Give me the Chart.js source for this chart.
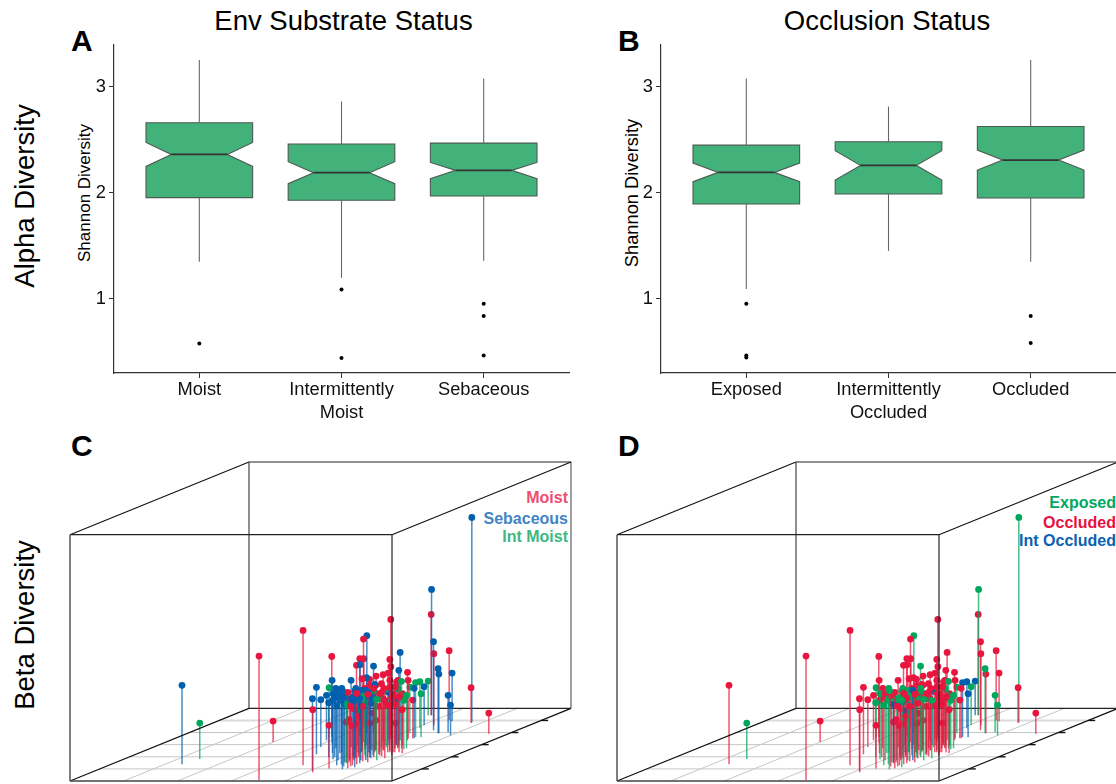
<!DOCTYPE html>
<html>
<head>
<meta charset="utf-8">
<title>Alpha and beta diversity</title>
<script src="https://cdn.jsdelivr.net/npm/chart.js@4"></script>
<style>
  html, body { margin: 0; padding: 0; width: 1116px; height: 784px; overflow: hidden; background: #fff; }
  body { position: relative; font-family: "Liberation Sans", Arial, sans-serif; color: #000; }
  canvas { position: absolute; }
  .txt { position: absolute; white-space: nowrap; line-height: 1; }
  .center { transform: translate(-50%, -50%); }
  .turn { transform: translate(-50%, -50%) rotate(-90deg); }
  .letter { font-weight: bold; font-size: 30px; }
  .key { font-weight: bold; font-size: 16px; transform: translate(-100%, -50%); }
</style>
</head>
<body>
<div class="txt center" style="left:343.5px; top:21px; font-size:27.5px">Env Substrate Status</div>
<div class="txt center" style="left:887px; top:21px; font-size:27.5px">Occlusion Status</div>
<div class="txt turn" style="left:25px; top:196px; font-size:27.5px">Alpha Diversity</div>
<div class="txt turn" style="left:25px; top:625px; font-size:27.5px">Beta Diversity</div>
<div class="txt turn" style="left:84px; top:192.5px; font-size:17px">Shannon Diversity</div>
<div class="txt turn" style="left:632px; top:192.5px; font-size:18.3px">Shannon Diversity</div>
<div class="txt letter" style="left:71px; top:26px">A</div>
<div class="txt letter" style="left:618px; top:26px">B</div>
<div class="txt letter" style="left:71px; top:431px">C</div>
<div class="txt letter" style="left:618px; top:431px">D</div>
<div class="txt key" style="left:568px; top:498px; color:#ee4d71">Moist</div>
<div class="txt key" style="left:568px; top:518.5px; color:#3f85c5">Sebaceous</div>
<div class="txt key" style="left:568px; top:537px; color:#3db880">Int Moist</div>
<div class="txt key" style="left:1116px; top:502.5px; color:#00a860">Exposed</div>
<div class="txt key" style="left:1116px; top:522.5px; color:#e8103f">Occluded</div>
<div class="txt key" style="left:1116px; top:540.5px; color:#0a62b0">Int Occluded</div>

<canvas id="panelA" width="510" height="405" style="left:70px; top:31px"></canvas>
<canvas id="panelB" width="510" height="405" style="left:617px; top:31px"></canvas>
<canvas id="panelC" width="509" height="327" style="left:66px; top:458px"></canvas>
<canvas id="panelD" width="509" height="327" style="left:613px; top:458px"></canvas>

<script>
// Box plot values (Shannon diversity)
const substrateLabels = ["Moist", ["Intermittently", "Moist"], "Sebaceous"];
const substrateWhiskerLow = [1.348, 1.197, 1.357];
const substrateQ1 = [1.953, 1.928, 1.969];
const substrateNotchLow = [2.247, 2.085, 2.132];
const substrateMedian = [2.36, 2.188, 2.21];
const substrateNotchHigh = [2.473, 2.292, 2.285];
const substrateQ3 = [2.659, 2.458, 2.467];
const substrateWhiskerHigh = [3.251, 2.859, 3.075];
const substrateOutliers = [[0.578], [1.088, 0.442], [0.953, 0.837, 0.464]];

const occlusionLabels = ["Exposed", ["Intermittently", "Occluded"], "Occluded"];
const occlusionWhiskerLow = [1.091, 1.451, 1.348];
const occlusionQ1 = [1.893, 1.987, 1.95];
const occlusionNotchLow = [2.103, 2.119, 2.213];
const occlusionMedian = [2.191, 2.257, 2.307];
const occlusionNotchHigh = [2.279, 2.395, 2.401];
const occlusionQ3 = [2.448, 2.48, 2.624];
const occlusionWhiskerHigh = [3.075, 2.812, 3.251];
const occlusionOutliers = [[0.953, 0.464, 0.445], [], [0.837, 0.583]];

const diversityTicks = [1, 2, 3];

// Ordination samples, one entry per sample. Same samples in panels C and D.
const pointX = [
  70.9, 75.6, 187.3, 107.1, 194.4, 216.1, 221.3, 180.7, 167.1, 228.5,
  151.5, 169.3, 154.2, 156.3, 200.4, 209.6, 194.3, 217.1, 243.6, 201.6,
  232.9, 230.4, 233, 243.8, 229.9, 232.8, 230.1, 217.4, 198.1, 154.3,
  145.3, 159.1, 180, 198.2, 179.4, 209.1, 208.6, 211.6, 186.1, 218.2,
  212.9, 213, 208.3, 224.5, 215.7, 229.9, 240.9, 237.3, 233, 251,
  199.8, 199.4, 238.7, 226.7, 229.7, 250.7, 251.4, 235.1, 258.2, 268,
  257.3, 258.3, 302.1, 196.4, 220.1, 237.2, 217, 243.5, 239, 222.4,
  237.7, 238.2, 263.9, 233, 230.2, 231.6, 226.2, 239.1, 225.5, 239.8,
  233.5, 234.1, 239.1, 227.2, 239.8, 241.4, 231.5, 220.8, 226.4, 228.8,
  219.8, 200.2, 230.2, 238.6, 244.2, 231, 229.2, 219.3, 245.1, 244.6,
  252.4, 244.3, 246.5, 237.5, 214.3, 230.3, 228.7, 227.2, 258.4, 256, 249.1,
  206.4, 228.1, 237.5, 246.5, 244.5, 251, 245.6, 246.2, 244.2, 244.8,
  251.7, 244.9, 245.4, 255.8, 243, 250.9, 258.9, 247.1, 258.5, 254.1,
  247.3, 255.7, 201.1, 218.4, 185.3, 210.2, 221.1, 228.1, 230.2, 238.2
];
const pointDepth = [
  16.7, 22, 0.7, 39, 15.7, 10.7, 8.7, 26.7, 34, 12.4,
  43.7, 37.7, 43.7, 40.7, 23.7, 21.7, 27.7, 20.7, 11.7, 27.7,
  17.7, 18.7, 18.7, 15.7, 22.7, 20.7, 23.7, 28.7, 33.7, 53.7,
  58.7, 54.7, 44.7, 38.7, 47.7, 33.7, 35.7, 35.7, 47.7, 35.7,
  40.7, 42.7, 45.7, 38.7, 42.7, 40.7, 35.7, 40.7, 42.7, 32.7,
  65.7, 65.7, 50.7, 55.7, 60.7, 47.7, 47.7, 59.7, 48.7, 45.7,
  58.7, 58, 47.4, 65.7, 52.7, 44, 55.7, 43.7, 42.7, 47.7,
  42.7, 35.7, 27.7, 37.7, 30.7, 27.7, 30.7, 23.7, 25.7, 20.7,
  33.7, 28.7, 28.7, 35.7, 25.7, 23.7, 25.7, 28.7, 23.7, 20.7,
  25.7, 35.7, 35.7, 35.7, 30.7, 32.7, 30.7, 32.7, 33.7, 35.7,
  28.7, 32.7, 25.7, 30.7, 32.7, 16.7, 18.7, 22.7, 28.7, 32.7, 28.7,
  23.7, 15.7, 14.7, 12.7, 14.7, 13.7, 16.7, 17.7, 19.7, 20.7,
  18.7, 22.7, 23.7, 20.7, 26.7, 24.7, 22.7, 28.7, 25.7, 28.7,
  32.7, 31.7, 28.7, 23.7, 32.7, 30.7, 28.7, 28.7, 30.7, 30.7
];
const pointZ = [
  79, 36, 124.3, 21, 135, 71.7, 62.7, 67, 47.4, 43.3,
  49.7, 63, 81, 45, 54.7, 65.7, 53, 66.7, 78.7, 53,
  59, 40.3, 42.7, 39.7, 34.7, 51.7, 41, 42, 67, 62,
  63.7, 67.7, 71.7, 103.3, 97.7, 68.7, 67.7, 66, 67.3, 69.3,
  65.7, 65.3, 116, 83, 71.7, 88, 75, 68, 58, 67,
  126, 101, 88.7, 71.7, 69.7, 64.7, 59.3, 48.3, 37, 30.3,
  205, 35.4, 20.6, 34.3, 46.7, 54.4, 38.7, 43.7, 50, 46.3,
  38.3, 45.7, 43.7, 20.3, 30, 30, 37.3, 54.7, 53.3, 55.3,
  44, 60.3, 53.7, 56, 58.3, 58.7, 60, 62, 66.3, 60,
  58.3, 50, 53.3, 63.3, 70, 64.7, 66, 63, 58.7, 51.7,
  58.7, 61.3, 61.7, 51.7, 60, 65.7, 58.7, 56.3, 55.3, 53, 65.3,
  60, 60, 71, 76, 60, 67, 71, 65, 55, 70,
  68, 55, 69, 61, 48, 64, 58, 47, 58, 48,
  68, 49, 64, 60, 60, 62, 55, 60, 65, 62
];
// M moist, S sebaceous, I intermittently moist
const pointSubstrate = [
  "S", "I", "M", "M", "M", "S", "M", "S", "S", "M",
  "I", "S", "M", "S", "S", "S", "S", "S", "S", "S",
  "I", "M", "M", "M", "M", "M", "M", "S", "S", "M",
  "M", "M", "S", "M", "S", "M", "S", "M", "S", "M",
  "M", "M", "M", "M", "M", "S", "S", "M", "M", "I",
  "S", "M", "S", "M", "M", "S", "S", "S", "S", "S",
  "S", "M", "M", "I", "I", "I", "S", "I", "S", "I",
  "M", "S", "M", "M", "M", "M", "M", "I", "I", "S",
  "I", "I", "I", "I", "S", "S", "I", "S", "S", "S",
  "S", "M", "S", "M", "M", "M", "S", "M", "I", "M",
  "M", "M", "M", "M", "M", "S", "S", "S", "M", "I", "M",
  "S", "S", "S", "M", "M", "S", "M", "S", "M", "S",
  "M", "S", "M", "I", "M", "M", "M", "M", "M", "M",
  "M", "I", "S", "S", "S", "S", "I", "S", "M", "M"
];
// E exposed, O occluded, N intermittently occluded
const pointOcclusion = [
  "O", "E", "O", "O", "O", "O", "O", "O", "O", "O",
  "E", "O", "O", "O", "E", "E", "O", "O", "E", "E",
  "N", "O", "O", "O", "O", "O", "O", "N", "O", "O",
  "O", "O", "O", "O", "E", "O", "O", "O", "E", "O",
  "O", "O", "O", "O", "O", "O", "O", "O", "O", "E",
  "E", "O", "O", "O", "O", "E", "O", "O", "E", "E",
  "E", "O", "O", "N", "N", "N", "E", "N", "O", "E",
  "O", "O", "O", "O", "O", "O", "O", "E", "N", "E",
  "E", "E", "E", "N", "O", "E", "E", "E", "E", "E",
  "E", "O", "O", "O", "O", "O", "O", "O", "E", "O",
  "O", "O", "O", "O", "O", "E", "E", "N", "O", "E", "O",
  "O", "E", "O", "O", "O", "E", "O", "O", "O", "N",
  "O", "O", "E", "E", "O", "O", "E", "O", "O", "O",
  "O", "E", "E", "E", "O", "E", "E", "O", "O", "O"
];

// Floor grid of the 3D box
const floorXTicks = [53.7, 107.3, 161, 214.7, 268.3];
const floorDepthTicks = [12.1, 24.2, 36.4, 48.5, 60.6];

const xMax = 322;
const depthMax = 72.7;
const zMax = 246.5;
const depthSlant = 2.462;

const groupColors = {
  M: "232, 22, 63", O: "232, 22, 63",
  S: "0, 96, 174", N: "0, 96, 174",
  I: "0, 166, 92", E: "0, 166, 92"
};

// Notched box as a closed outline, starting in the middle of the bottom edge
function boxOutline(pos, q1, notchLow, median, notchHigh, q3) {
  const half = 0.375;
  const notch = 0.197;
  return [
    { x: pos, y: q1 },
    { x: pos + half, y: q1 },
    { x: pos + half, y: notchLow },
    { x: pos + notch, y: median },
    { x: pos + half, y: notchHigh },
    { x: pos + half, y: q3 },
    { x: pos - half, y: q3 },
    { x: pos - half, y: notchHigh },
    { x: pos - notch, y: median },
    { x: pos - half, y: notchLow },
    { x: pos - half, y: q1 },
    { x: pos, y: q1 }
  ];
}

function segment(data, color, width) {
  return { data: data, showLine: true, borderColor: color, borderWidth: width, pointRadius: 0, fill: false, clip: false };
}

function createBoxChart(canvasId, labels, low, q1, notchLow, median, notchHigh, q3, high, outliers) {
  const datasets = [];
  labels.forEach((label, i) => {
    const pos = i + 1;
    datasets.push(segment([{ x: pos, y: low[i] }, { x: pos, y: q1[i] }], "#666", 1.1));
    datasets.push(segment([{ x: pos, y: q3[i] }, { x: pos, y: high[i] }], "#666", 1.1));
    datasets.push(segment([{ x: pos - 0.197, y: median[i] }, { x: pos + 0.197, y: median[i] }], "#333", 1.8));
    const box = segment(boxOutline(pos, q1[i], notchLow[i], median[i], notchHigh[i], q3[i]), "#4d5a52", 1.1);
    box.fill = "shape";
    box.backgroundColor = "#43b17a";
    box.order = 1;
    datasets.push(box);
    datasets.push({
      data: outliers[i].map((v) => ({ x: pos, y: v })),
      pointRadius: 2,
      pointBackgroundColor: "#000",
      pointBorderWidth: 0,
      clip: false
    });
  });

  new Chart(document.getElementById(canvasId), {
    type: "scatter",
    data: { datasets: datasets },
    options: {
      responsive: false,
      animation: false,
      layout: { padding: { top: 3, right: 11, bottom: 0, left: 0 } },
      plugins: { legend: { display: false }, tooltip: { enabled: false } },
      scales: {
        x: {
          type: "linear",
          min: 0.4,
          max: 3.6,
          afterBuildTicks: (axis) => { axis.ticks = [1, 2, 3].map((v) => ({ value: v })); },
          afterFit: (axis) => { axis.height = 63; },
          grid: { drawOnChartArea: false, tickLength: 5, tickColor: "#333" },
          border: { color: "#333", width: 1.2 },
          ticks: {
            autoSkip: false,
            maxRotation: 0,
            padding: 1,
            color: "#111",
            font: { family: "Liberation Sans", size: 18.3, lineHeight: 1.23 },
            callback: (value) => labels[value - 1]
          }
        },
        y: {
          min: 0.3,
          max: 3.392,
          afterBuildTicks: (axis) => { axis.ticks = diversityTicks.map((v) => ({ value: v })); },
          afterFit: (axis) => { axis.width = 44; },
          grid: { drawOnChartArea: false, tickLength: 5, tickColor: "#333" },
          border: { color: "#333", width: 1.2 },
          ticks: {
            padding: 3,
            color: "#111",
            font: { family: "Liberation Sans", size: 18.3 }
          }
        }
      }
    }
  });
}

// Oblique projection of the box onto the page
function project(x, depth, z) {
  return { x: x + depth * depthSlant, y: depth + z };
}

function edge(from, to, color, width, order) {
  const line = segment([project(...from), project(...to)], color, width);
  line.order = order;
  return line;
}

function createBoxFrameDatasets() {
  const grid = "#c6c6c6";
  const lines = [];
  floorXTicks.forEach((x) => lines.push(edge([x, 0, 0], [x, depthMax, 0], grid, 1, 2000)));
  floorDepthTicks.forEach((d, i) => {
    const far = i === floorDepthTicks.length - 1;
    lines.push(edge([0, d, 0], [xMax, d, 0], far ? "#dcdcdc" : grid, far ? 2 : 1, 2000));
    lines.push(edge([xMax, d, 0], [xMax + 7, d, 0], "#111", 1.4, -1));
  });
  // back of the box goes behind the samples
  lines.push(edge([0, depthMax, 0], [xMax, depthMax, 0], "#222", 1.2, 1000));
  lines.push(edge([0, depthMax, 0], [0, depthMax, zMax], "#444", 1.2, 1000));
  lines.push(edge([xMax, depthMax, 0], [xMax, depthMax, zMax], "#777", 1.4, 1000));
  lines.push(edge([0, depthMax, zMax], [xMax, depthMax, zMax], "#222", 1.1, 1000));
  // front and sides stay on top
  lines.push(edge([0, 0, 0], [xMax, 0, 0], "#444", 1.5, -1));
  lines.push(edge([0, 0, 0], [0, 0, zMax], "#555", 1.5, -1));
  lines.push(edge([xMax, 0, 0], [xMax, 0, zMax], "#222", 1.2, -1));
  lines.push(edge([0, 0, zMax], [xMax, 0, zMax], "#222", 1.1, -1));
  lines.push(edge([0, 0, 0], [0, depthMax, 0], "#111", 1.2, -1));
  lines.push(edge([xMax, 0, 0], [xMax, depthMax, 0], "#111", 1.2, -1));
  lines.push(edge([0, 0, zMax], [0, depthMax, zMax], "#111", 1.1, -1));
  lines.push(edge([xMax, 0, zMax], [xMax, depthMax, zMax], "#111", 1.1, -1));
  return lines;
}

function createBetaChart(canvasId, groups) {
  // each sample is a stem from the floor with a dot on top, nearest drawn last
  const samples = pointX.map((x, i) => {
    const rgb = groupColors[groups[i]];
    return {
      data: [project(x, pointDepth[i], 0), project(x, pointDepth[i], pointZ[i])],
      showLine: true,
      borderColor: `rgba(${rgb}, 0.72)`,
      borderWidth: 1.5,
      pointRadius: [0, 3.4],
      pointBackgroundColor: `rgb(${rgb})`,
      pointBorderWidth: 0,
      order: pointDepth[i],
      clip: false
    };
  });

  new Chart(document.getElementById(canvasId), {
    type: "scatter",
    data: { datasets: createBoxFrameDatasets().concat(samples) },
    options: {
      responsive: false,
      animation: false,
      layout: { padding: 4 },
      plugins: { legend: { display: false }, tooltip: { enabled: false } },
      scales: {
        x: { type: "linear", display: false, min: 0, max: xMax + depthMax * depthSlant },
        y: { type: "linear", display: false, min: 0, max: depthMax + zMax }
      }
    }
  });
}

createBoxChart("panelA", substrateLabels, substrateWhiskerLow, substrateQ1, substrateNotchLow,
  substrateMedian, substrateNotchHigh, substrateQ3, substrateWhiskerHigh, substrateOutliers);
createBoxChart("panelB", occlusionLabels, occlusionWhiskerLow, occlusionQ1, occlusionNotchLow,
  occlusionMedian, occlusionNotchHigh, occlusionQ3, occlusionWhiskerHigh, occlusionOutliers);
createBetaChart("panelC", pointSubstrate);
createBetaChart("panelD", pointOcclusion);
</script>
</body>
</html>
